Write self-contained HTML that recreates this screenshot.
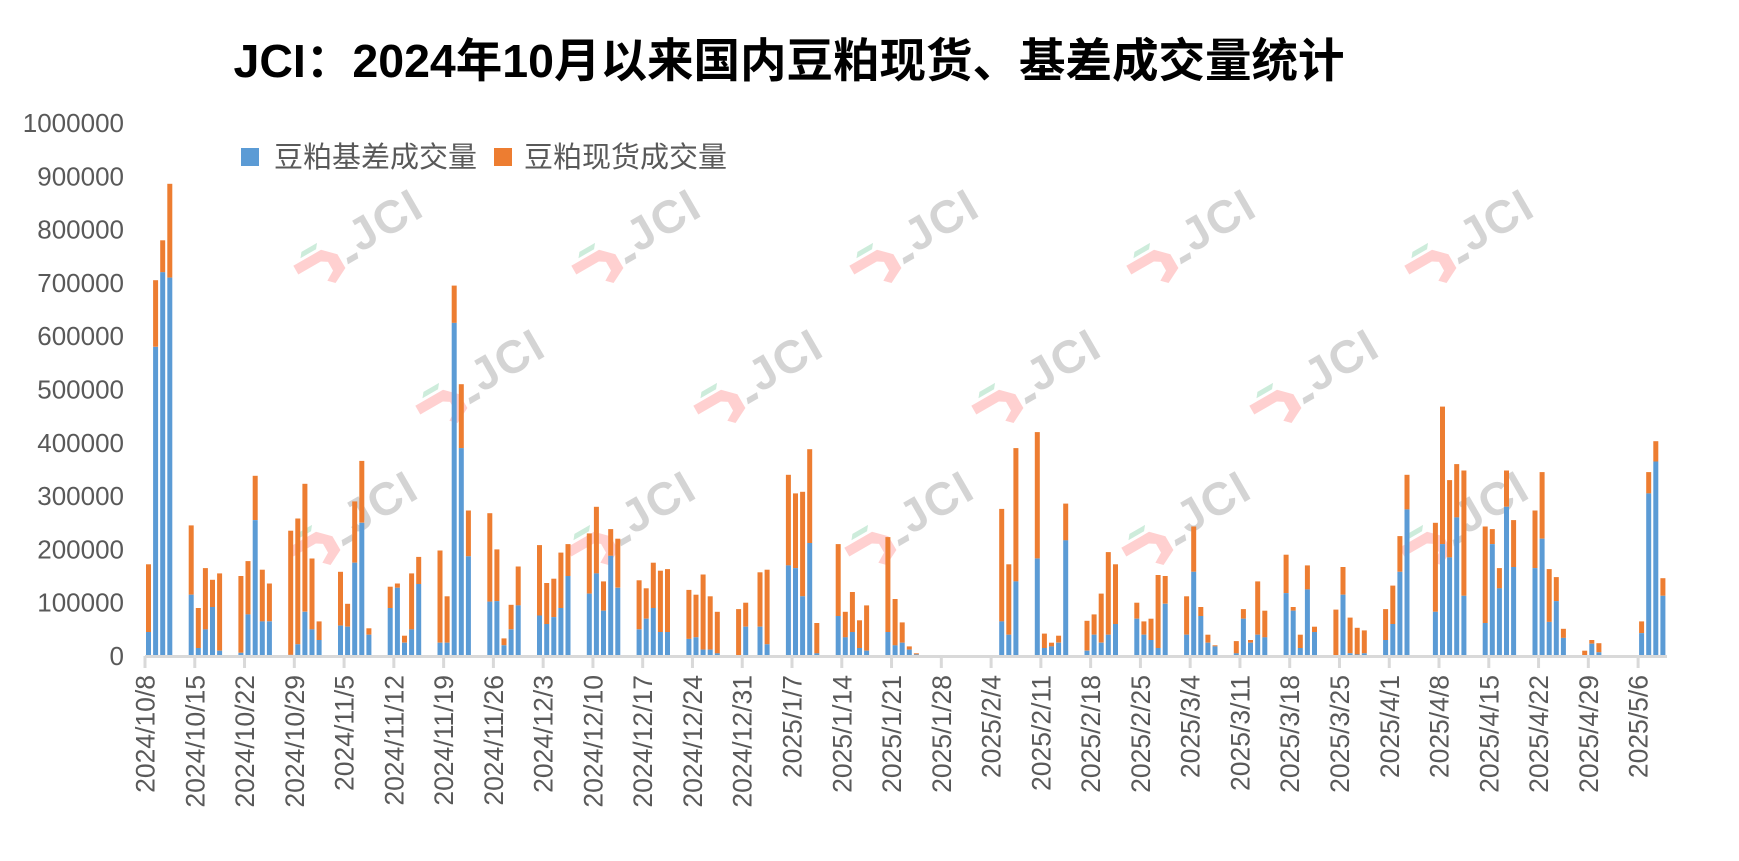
<!DOCTYPE html>
<html><head><meta charset="utf-8"><style>
html,body{margin:0;padding:0;background:#fff;}
svg{display:block;}
</style></head><body>
<svg id="c" width="1739" height="861" xmlns="http://www.w3.org/2000/svg" font-family="Liberation Sans, Noto Sans CJK SC, sans-serif">
<rect width="1739" height="861" fill="#fff"/>
<g id="wm"></g>
<text x="789" y="77" text-anchor="middle" font-size="46.5" font-weight="bold" fill="#000" font-family="Liberation Sans, Noto Sans CJK SC, sans-serif">JCI：2024年10月以来国内豆粕现货、基差成交量统计</text>
<rect x="241" y="148" width="18" height="18" fill="#5b9bd5"/>
<text x="274" y="167" font-size="29" fill="#595959">豆粕基差成交量</text>
<rect x="494" y="148" width="18" height="18" fill="#ed7d31"/>
<text x="524" y="167" font-size="29" fill="#595959">豆粕现货成交量</text>
<g id="yl" font-size="26" fill="#595959" text-anchor="end"></g>
<g id="bars"></g>
<line x1="145" y1="656.5" x2="1667" y2="656.5" stroke="#d9d9d9" stroke-width="3"/>
<g id="xl" font-size="26.5" fill="#595959"></g>
</svg>
<script>
var NS="http://www.w3.org/2000/svg";
function el(t,a,p,txt){var e=document.createElementNS(NS,t);for(var k in a)e.setAttribute(k,a[k]);if(txt!=null)e.textContent=txt;p.appendChild(e);return e;}
var Y0=656,K=533/1e6;
var yl=document.getElementById('yl');
for(var i=0;i<=10;i++){el('text',{x:124,y:Y0-i*53.3+9},yl,String(i*100000));}
var wm=document.getElementById('wm');
var pos=[];
[350,628,906,1183,1461].forEach(function(x){pos.push([x,240]);pos.push([x-5,522]);});
[472,750,1028,1306].forEach(function(x){pos.push([x,380]);});
pos.forEach(function(p){
 var g=el('g',{transform:'translate('+p[0]+','+p[1]+') rotate(-30)',opacity:'0.9'},wm);
 el('path',{d:'M-62,-6 L-30,-6 L-18,6 L-18,22 L-34,30 L-40,24 L-30,18 L-30,8 L-36,4 L-62,4 Z',fill:'#ffcccc'},g);
 el('path',{d:'M-48,-14 L-30,-14 L-34,-9 L-52,-9 Z',fill:'#c8ead8'},g);
 el('path',{d:'M-12,14 L0,14 L-2,20 L-14,20 Z',fill:'#d0d0d0'},g);
 el('text',{x:2,y:16,'font-size':'46','font-weight':'bold',fill:'#d0d0d0','letter-spacing':'2'},g,'JCI');
});
var D=[
[0,172,45],[1,705,580],[2,780,720],[3,886,710],
[6,245,115],[7,90,15],[8,165,50],[9,143,92],[10,155,10],
[13,150,6],[14,178,78],[15,338,255],[16,162,65],[17,136,65],
[20,235,2],[21,258,22],[22,323,83],[23,183,50],[24,65,30],
[27,158,57],[28,98,55],[29,290,175],[30,366,250],[31,52,40],
[34,130,90],[35,136,128],[36,38,25],[37,155,50],[38,186,135],
[41,198,25],[42,112,25],[43,695,625],[44,510,390],[45,273,187],
[48,268,102],[49,200,103],[50,33,20],[51,96,50],[52,168,95],
[55,208,76],[56,137,60],[57,145,73],[58,194,90],[59,210,150],
[62,230,117],[63,280,155],[64,140,85],[65,238,188],[66,220,128],
[69,142,50],[70,127,70],[71,175,90],[72,160,45],[73,163,45],
[76,124,32],[77,115,35],[78,153,12],[79,112,12],[80,83,5],
[83,88,0],[84,100,55],[86,157,55],[87,162,22],
[90,340,170],[91,305,165],[92,308,112],[93,388,212],[94,62,5],
[97,210,75],[98,83,35],[99,120,45],[100,67,15],[101,95,10],
[104,223,45],[105,107,20],[106,63,25],[107,18,12],[108,5,3],
[120,276,65],[121,172,40],[122,390,140],
[125,420,183],[126,42,15],[127,25,18],[128,38,25],[129,286,217],
[132,66,10],[133,78,40],[134,117,25],[135,195,40],[136,172,60],
[139,100,70],[140,65,40],[141,70,30],[142,152,15],[143,150,98],
[146,112,40],[147,243,158],[148,92,75],[149,40,25],[150,20,18],
[153,28,5],[154,88,70],[155,30,25],[156,140,40],[157,85,35],
[160,190,118],[161,92,85],[162,40,15],[163,170,125],[164,55,45],
[167,87,0],[168,167,115],[169,72,5],[170,53,3],[171,48,5],
[174,88,30],[175,132,60],[176,225,158],[177,340,275],
[181,250,83],[182,468,210],[183,330,185],[184,360,260],[185,348,113],
[188,243,62],[189,238,210],[190,165,127],[191,348,280],[192,255,167],
[195,273,165],[196,345,220],[197,163,64],[198,148,103],[199,51,34],
[202,10,0],[203,30,23],[204,24,7],
[210,65,43],[211,345,305],[212,403,365],[213,146,113]
];
var bg=document.getElementById('bars');
D.forEach(function(r){
 var x=146+7.11*r[0];
 var ht=r[1]*1000*K, hb=r[2]*1000*K;
 el('rect',{x:x.toFixed(1),y:(Y0-ht).toFixed(1),width:5,height:(ht-hb).toFixed(1),fill:'#ed7d31'},bg);
 if(hb>0)el('rect',{x:x.toFixed(1),y:(Y0-hb).toFixed(1),width:5,height:hb.toFixed(1),fill:'#5b9bd5'},bg);
});
var xl=document.getElementById('xl');
for(var d=0;d<=210;d+=7){
 var x=145+7.11*d;
 el('line',{x1:x,y1:656,x2:x,y2:668,stroke:'#d9d9d9','stroke-width':3},xl);
 var dt=new Date(2024,9,8+d);
 var s=dt.getFullYear()+'/'+(dt.getMonth()+1)+'/'+dt.getDate();
 el('text',{x:0,y:0,'text-anchor':'end',transform:'translate('+(x+9.5)+',675) rotate(-90)'},xl,s);
}
</script>
</body></html>
